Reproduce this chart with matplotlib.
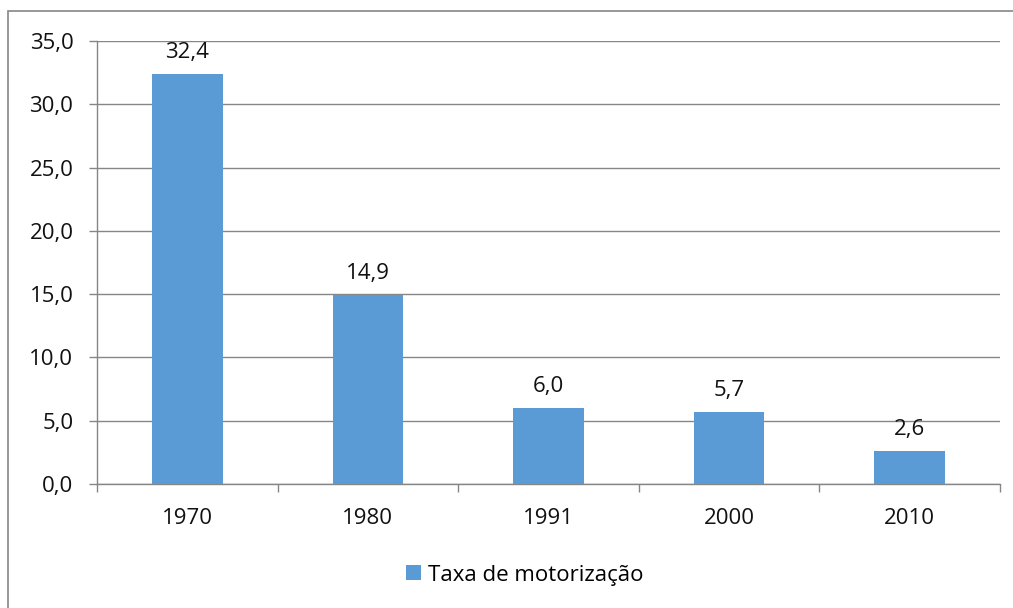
import numpy as np
import matplotlib.pyplot as plt
from matplotlib.patches import Rectangle

anos = ["1970", "1980", "1991", "2000", "2010"]
taxa = [32.4, 14.9, 6.0, 5.7, 2.6]
rotulos = ["32,4", "14,9", "6,0", "5,7", "2,6"]
yticks = [0, 5, 10, 15, 20, 25, 30, 35]

plt.rcParams["font.family"] = ["Open Sans", "DejaVu Sans"]
cor_barra = "#5B9BD5"
cinza = "#868686"
fs = 16

fig = plt.figure(figsize=(10.13, 6.08), dpi=100)
ax = fig.add_axes([97 / 1013, 1 - 484 / 608, (1000 - 97) / 1013, (484 - 41) / 608])

x = np.arange(len(anos))
ax.bar(x, taxa, width=0.39, color=cor_barra, label="Taxa de motorização", zorder=3)
for xi, v, s in zip(x, taxa, rotulos):
    ax.annotate(s, (xi, v), xytext=(0, 8), textcoords="offset points",
                ha="center", va="bottom", fontsize=fs, color="#111111", zorder=4)

ax.set_xlim(-0.5, len(anos) - 0.5)
ax.set_ylim(0, 35)
ax.set_yticks(yticks)
ax.set_yticklabels([f"{t:.1f}".replace(".", ",") for t in yticks], fontsize=fs, color="#111111")
ax.yaxis.grid(True, color=cinza, linewidth=1, zorder=0)

# ticks between categories
ax.set_xticks(np.arange(-0.5, len(anos)), minor=False)
ax.set_xticklabels([])
ax.set_xticks(x, minor=True)
ax.set_xticklabels(anos, minor=True, fontsize=fs, color="#111111")
ax.tick_params(axis="x", which="major", length=6, color=cinza, width=1)
ax.tick_params(axis="x", which="minor", length=0, pad=17)
ax.tick_params(axis="y", length=6, color=cinza, width=1, pad=11)

for side in ["top", "right"]:
    ax.spines[side].set_visible(False)
for side in ["left", "bottom"]:
    ax.spines[side].set_color(cinza)
    ax.spines[side].set_linewidth(1)

ax.legend(loc="center", bbox_to_anchor=(525 / 1013, 1 - 575 / 608),
          bbox_transform=fig.transFigure, frameon=False, fontsize=fs,
          handlelength=0.65, handleheight=0.65, handletextpad=0.35)

fig.patches.append(Rectangle((8 / 1013, -0.01), 1.0, 1 - 11 / 608 + 0.01,
                             transform=fig.transFigure, fill=False,
                             edgecolor=cinza, linewidth=1.2))

fig.savefig("out.png", dpi=100)
